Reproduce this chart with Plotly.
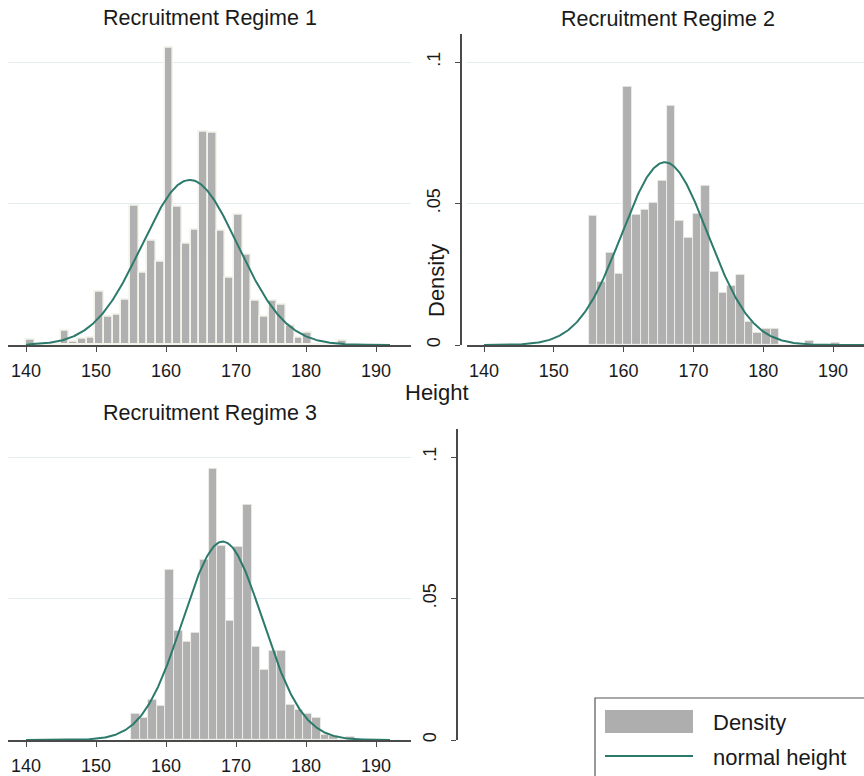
import numpy as np
import plotly.graph_objects as go

# ---------------- data ----------------
panel_titles = ["Recruitment Regime 1", "Recruitment Regime 2", "Recruitment Regime 3"]

# histogram bins: first bin edge, bin width, densities
r1_bin_start = 140.0
r1_bin_width = 52.0 / 42
r1_density = [0.0020, 0.0, 0.0, 0.0, 0.0049, 0.0012, 0.0021, 0.0025,
              0.0188, 0.0100, 0.0106, 0.0160, 0.0493, 0.0255, 0.0367, 0.0293,
              0.1050, 0.0487, 0.0358, 0.0408, 0.0755, 0.0749, 0.0403, 0.0237,
              0.0460, 0.0319, 0.0156, 0.0100, 0.0156, 0.0141, 0.0067, 0.0027,
              0.0045, 0.0, 0.0, 0.0, 0.0015]

r2_bin_start = 155.0
r2_bin_width = 36.0 / 29
r2_density = [0.0457, 0.0224, 0.0326, 0.0251, 0.0913, 0.0462, 0.0477, 0.0503,
              0.0581, 0.0845, 0.0438, 0.0379, 0.0465, 0.0562, 0.0259, 0.0185,
              0.0208, 0.0247, 0.0082, 0.0043, 0.0059, 0.0059, 0.0, 0.0,
              0.0, 0.0015, 0.0, 0.0, 0.0009]

r3_bin_start = 155.0
r3_bin_width = 32.0 / 26
r3_density = [0.0094, 0.0080, 0.0141, 0.0122, 0.0601, 0.0385, 0.0348, 0.0379,
              0.0637, 0.0959, 0.0688, 0.0420, 0.0683, 0.0830, 0.0329, 0.0247,
              0.0315, 0.0316, 0.0123, 0.0106, 0.0093, 0.0080, 0.0019, 0.0015,
              0.0, 0.0010]

# normal density overlay parameters (mean, sd) and x extent
normal_mean = [163.4, 165.9, 168.1]
normal_sd = [6.84, 6.18, 5.69]
normal_from = [140, 140, 140]
normal_to = [192, 195, 192]

x_ticks = [140, 150, 160, 170, 180, 190]
y_ticks = [0, 0.05, 0.1]
y_ticklabels = ["0", ".05", ".1"]

legend_labels = ["Density", "normal height"]

# ---------------- style ----------------
W, H = 864, 776
BAR = "#b0b0b0"
BAR_EDGE = "#f4f3ec"
CURVE = "#2b7a6b"
AXIS = "#4a4a4a"
GRID = "#e4ecee"
TXT = "#1a1a1a"
FONT = "Liberation Sans"

def px(x):
    return x / W

def py(y):
    return 1 - y / H

fig = go.Figure()

bins = [(r1_bin_start, r1_bin_width, r1_density),
        (r2_bin_start, r2_bin_width, r2_density),
        (r3_bin_start, r3_bin_width, r3_density)]
edge_w = [1.6, 0.8, 0.8]

for i, (start, width, dens) in enumerate(bins):
    centers = [start + (k + 0.5) * width for k in range(len(dens))]
    ax = "" if i == 0 else str(i + 1)
    fig.add_trace(go.Bar(
        x=centers, y=dens, width=[width] * len(dens),
        marker=dict(color=BAR, line=dict(color=BAR_EDGE, width=edge_w[i])),
        xaxis="x" + ax, yaxis="y" + ax, showlegend=False, name="Density"))
    xs = np.linspace(normal_from[i], normal_to[i], 400)
    ys = np.exp(-0.5 * ((xs - normal_mean[i]) / normal_sd[i]) ** 2) / (normal_sd[i] * np.sqrt(2 * np.pi))
    fig.add_trace(go.Scatter(
        x=xs, y=ys, mode="lines", line=dict(color=CURVE, width=2),
        xaxis="x" + ax, yaxis="y" + ax, showlegend=False, name="normal height"))

# invisible trace for the 4th (empty) panel so its axis renders
fig.add_trace(go.Scatter(x=[150], y=[0], mode="markers", marker=dict(opacity=0),
                         xaxis="x4", yaxis="y4", showlegend=False, hoverinfo="skip"))

tickfont = dict(family=FONT, size=18, color=TXT)

def xaxis_cfg(dom, rng, anchor):
    return dict(domain=dom, range=rng, anchor=anchor, tickvals=x_ticks,
                showline=True, linecolor=AXIS, linewidth=1.5, ticks="outside",
                ticklen=5, tickcolor=AXIS, tickwidth=1.2, tickfont=tickfont,
                showgrid=False, zeroline=False, ticklabelstandoff=4)

def yaxis_grid(dom):
    return dict(domain=dom, range=[0, 0.11], tickvals=[0.05, 0.1], showgrid=True,
                gridcolor=GRID, gridwidth=1, showticklabels=False, ticks="",
                showline=False, zeroline=False)

def yaxis_labeled(dom, pos):
    return dict(domain=dom, range=[0, 0.11], tickvals=y_ticks, ticktext=y_ticklabels,
                anchor="free", position=pos, showline=True, linecolor=AXIS,
                linewidth=1.5, ticks="outside", ticklen=5, tickcolor=AXIS,
                tickwidth=1.2, tickfont=tickfont, tickangle=-90, zeroline=False,
                ticklabelstandoff=8)

top_dom = [py(345), py(33.7)]
bot_dom = [py(740), py(428.7)]

x1_rng = [140 - 18 / 7.0, 140 + 385 / 7.0]
x2_rng = [140 - 17 / 6.98, 140 + 380 / 6.98]

layout = dict(
    width=W, height=H, margin=dict(l=0, r=0, t=0, b=0, autoexpand=False),
    paper_bgcolor="white", plot_bgcolor="rgba(0,0,0,0)", bargap=0,
    font=dict(family=FONT, color=TXT),
    xaxis=xaxis_cfg([px(8), px(411)], x1_rng, "y"),
    yaxis=yaxis_grid(top_dom),
    xaxis2=xaxis_cfg([px(467), 1.0], x2_rng, "y2"),
    yaxis2=dict(yaxis_labeled(top_dom, px(461)), showgrid=True, gridcolor=GRID),
    xaxis3=xaxis_cfg([px(8), px(411)], x1_rng, "y3"),
    yaxis3=yaxis_grid(bot_dom),
    xaxis4=dict(domain=[px(458), 1.0], range=x2_rng, anchor="y4", visible=False),
    yaxis4=dict(yaxis_labeled(bot_dom, px(457)), showgrid=False),
    showlegend=False,
)
fig.update_layout(**layout)

ann = []
title_pos = [(210, 18), (668, 19), (210, 413)]
for t, (xx, yy) in zip(panel_titles, title_pos):
    ann.append(dict(text=t, x=px(xx), y=py(yy), xref="paper", yref="paper",
                    showarrow=False, xanchor="center", yanchor="middle",
                    font=dict(family=FONT, size=21.5, color=TXT)))
ann.append(dict(text="Height", x=px(437), y=py(392), xref="paper", yref="paper",
                showarrow=False, xanchor="center", yanchor="middle",
                font=dict(family=FONT, size=22, color=TXT)))
ann.append(dict(text="Density", x=px(436), y=py(281), xref="paper", yref="paper",
                showarrow=False, xanchor="center", yanchor="middle", textangle=-90,
                font=dict(family=FONT, size=22, color=TXT)))
# legend
ann.append(dict(text=legend_labels[0], x=px(711), y=py(722), xref="paper", yref="paper",
                showarrow=False, xanchor="left", yanchor="middle",
                font=dict(family=FONT, size=22, color=TXT)))
ann.append(dict(text=legend_labels[1], x=px(711), y=py(757), xref="paper", yref="paper",
                showarrow=False, xanchor="left", yanchor="middle",
                font=dict(family=FONT, size=22, color=TXT)))
fig.update_layout(annotations=ann)

shapes = [
    dict(type="rect", xref="paper", yref="paper", x0=px(595), x1=px(880),
         y0=py(698), y1=py(800), line=dict(color="#555555", width=1.2),
         fillcolor="white", layer="below"),
    dict(type="rect", xref="paper", yref="paper", x0=px(605), x1=px(693),
         y0=py(733), y1=py(710), line=dict(width=0), fillcolor="#aeaeae"),
    dict(type="line", xref="paper", yref="paper", x0=px(605), x1=px(693),
         y0=py(756), y1=py(756), line=dict(color=CURVE, width=2)),
]
fig.update_layout(shapes=shapes)

fig.write_html("out.html",
               config={"displayModeBar": False},
               post_script="document.body.style.margin='0';document.body.style.padding='0';")
